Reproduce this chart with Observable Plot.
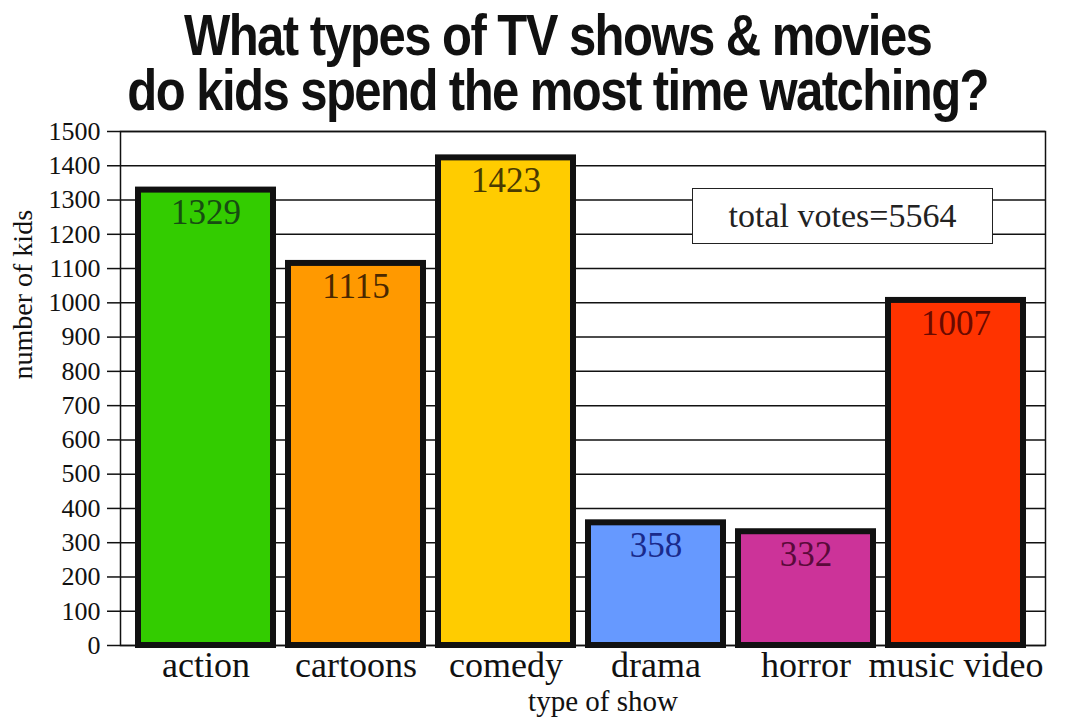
<!DOCTYPE html>
<html><head><meta charset="utf-8">
<script src="https://cdn.jsdelivr.net/npm/d3@7"></script>
<script src="https://cdn.jsdelivr.net/npm/@observablehq/plot@0.6"></script>
<style>
html,body{margin:0;padding:0;background:#fff}
#wrap{position:relative;width:1068px;height:724px;overflow:hidden;background:#fff}
#title{position:absolute;left:0;top:0;width:1068px;padding-top:8px;text-align:center;
  font-family:"Liberation Sans",sans-serif;font-weight:bold;font-size:57px;line-height:55px;letter-spacing:-1.8px;color:#111;
  transform:translateX(20px) scaleX(0.86);transform-origin:560px 0}
#chart{position:absolute;left:0;top:100px}
#note{position:absolute;left:692px;top:188px;width:299px;height:54px;border:1.5px solid #222;background:#fff;
  display:flex;align-items:center;justify-content:center;font-family:"Liberation Serif",serif;font-size:34px;color:#222}
</style></head>
<body>
<div id="wrap">
  <div id="title">What types of TV shows &amp; movies<br>do kids spend the most time watching?</div>
  <div id="chart"></div>
  <div id="note">total votes=5564</div>
</div>
<script>
const categories = ["action", "cartoons", "comedy", "drama", "horror", "music video"];
const votes = [1329, 1115, 1423, 358, 332, 1007];
const fills = ["#33cc00", "#ff9900", "#ffcc00", "#6699ff", "#cc3399", "#ff3300"];
const labelColors = ["#174d12", "#4a2800", "#4a3a00", "#1a2a8c", "#5a0a3a", "#6a0a00"];
const yTicks = d3.range(0, 1501, 100);
const xTitle = "type of show";
const yTitle = "number of kids";

const data = categories.map((c, i) => ({category: c, value: votes[i], fill: fills[i], labelColor: labelColors[i]}));

const chart = Plot.plot({
  width: 1068,
  height: 624,
  marginLeft: 120,
  marginRight: 23,
  marginTop: 31,
  marginBottom: 79,
  style: {fontFamily: "Liberation Serif, serif", fontSize: "26px", background: "transparent", color: "#111"},
  x: {domain: categories, range: [128, 1032], paddingInner: 0.1, paddingOuter: 0.05},
  y: {domain: [0, 1500]},
  marks: [
    Plot.gridY(yTicks, {stroke: "#111", strokeOpacity: 1, strokeWidth: 1.5}),
    Plot.frame({stroke: "#111", strokeWidth: 1.5}),
    Plot.axisY(yTicks, {tickSize: 13, tickPadding: 7, fontSize: 26, strokeWidth: 1.5, label: null, tickFormat: d => String(d)}),
    Plot.axisX({tickSize: 0, tickPadding: 6, fontSize: 36, label: null}),
    Plot.barY(data, {x: "category", y: "value", fill: "fill", stroke: "#111", strokeWidth: 6}),
    Plot.text(data, {x: "category", y: "value", text: d => String(d.value), fill: "labelColor", fontSize: 35, dy: 23, lineAnchor: "middle"}),
    Plot.text([yTitle], {text: d => d, frameAnchor: "left", rotate: -90, dx: -97, dy: -9, fontSize: 28, lineAnchor: "middle", fill: "#111"}),
    Plot.text([xTitle], {text: d => d, frameAnchor: "bottom", dx: 20, dy: 56, fontSize: 29, lineAnchor: "middle", fill: "#111"})
  ]
});
document.getElementById("chart").appendChild(chart);
</script>
</body></html>
